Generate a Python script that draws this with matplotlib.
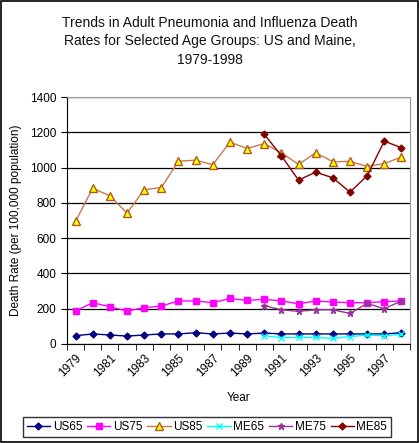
import matplotlib
matplotlib.use('Agg')
import matplotlib.pyplot as plt
from matplotlib.patches import Rectangle
import numpy as np

plt.rcParams['font.family'] = ['Liberation Sans', 'DejaVu Sans']

years = list(range(1979, 1999))
me_years = list(range(1990, 1999))

us65 = [47, 57, 51, 45, 51, 57, 57, 64, 57, 62, 57, 62, 57, 57, 57, 57, 57, 57, 57, 64]
us75 = [187, 234, 211, 187, 206, 215, 244, 244, 234, 258, 247, 253, 244, 228, 244, 238, 234, 234, 240, 244]
us85 = [695, 883, 840, 742, 874, 887, 1036, 1042, 1016, 1144, 1108, 1136, 1084, 1018, 1084, 1033, 1035, 1006, 1023, 1059]
me65 = [47, 36, 37, 37, 32, 42, 51, 47, 55]
me75 = [217, 194, 185, 194, 194, 173, 230, 200, 244]
me85 = [1189, 1067, 929, 974, 942, 861, 953, 1150, 1112]

fig = plt.figure(figsize=(4.19, 4.43), dpi=100)
ax = fig.add_axes([67 / 419, 1 - 344 / 443, 343 / 419, 247 / 443])

x = np.arange(len(years))
xm = np.array([years.index(y) for y in me_years])

ax.plot(x, us65, color='#000080', marker='D', ms=3.5, lw=1, label='US65')
ax.plot(x, us75, color='#FF00FF', marker='s', ms=4.5, lw=1, label='US75')
ax.plot(x, us85, color='#C8784E', marker='^', ms=5.5, mfc='#FFFF00', mec='#B05A20', lw=1, label='US85')
ax.plot(xm, me65, color='#00FFFF', marker='x', ms=4, lw=1, label='ME65')
ax.plot(xm, me75, color='#993399', marker='*', ms=5, lw=1, label='ME75')
ax.plot(xm, me85, color='#800000', marker='D', ms=3.5, lw=1, label='ME85')

ax.set_ylim(0, 1400)
ax.set_yticks(range(0, 1401, 200))
ax.yaxis.grid(True, color='black', lw=0.9)
ax.set_axisbelow(True)
ax.set_xlim(-0.5, len(years) - 0.5)
ax.set_xticks(x[::2])
ax.set_xticklabels([str(y) for y in years[::2]], rotation=45, ha='right',
                   rotation_mode='anchor', fontsize=8.5)
ax.set_xticks(np.arange(-0.5, len(years)), minor=True)
ax.tick_params(axis='x', which='major', length=0, pad=6)
ax.tick_params(axis='x', which='minor', length=4, direction='out', color='black')
ax.tick_params(axis='y', length=4, labelsize=8.5, direction='out')

for s in ['top', 'right']:
    ax.spines[s].set_color('#999999')
for s in ['left', 'bottom']:
    ax.spines[s].set_color('black')

ax.set_xlabel('Year', fontsize=8.5, labelpad=9)
ax.set_ylabel('Death Rate (per 100,000 population)', fontsize=8.5, labelpad=6)

fig.suptitle('Trends in Adult Pneumonia and Influenza Death\nRates for Selected Age Groups: US and Maine,\n1979-1998',
             fontsize=10, y=0.965, linespacing=1.45, color='#111111')

leg = ax.legend(loc='center', bbox_to_anchor=(207 / 419, 1 - 427 / 443),
                bbox_transform=fig.transFigure, ncol=6, fontsize=8.5,
                frameon=True, fancybox=False, edgecolor='black',
                handlelength=2.0, handletextpad=0.2, columnspacing=0.4,
                borderpad=0.35)
leg.get_frame().set_linewidth(1)

fig.patches.append(Rectangle((0.002, 0.002), 0.996, 0.996, transform=fig.transFigure,
                             fill=False, edgecolor='black', lw=1.2))

fig.savefig('out.png', dpi=100)
